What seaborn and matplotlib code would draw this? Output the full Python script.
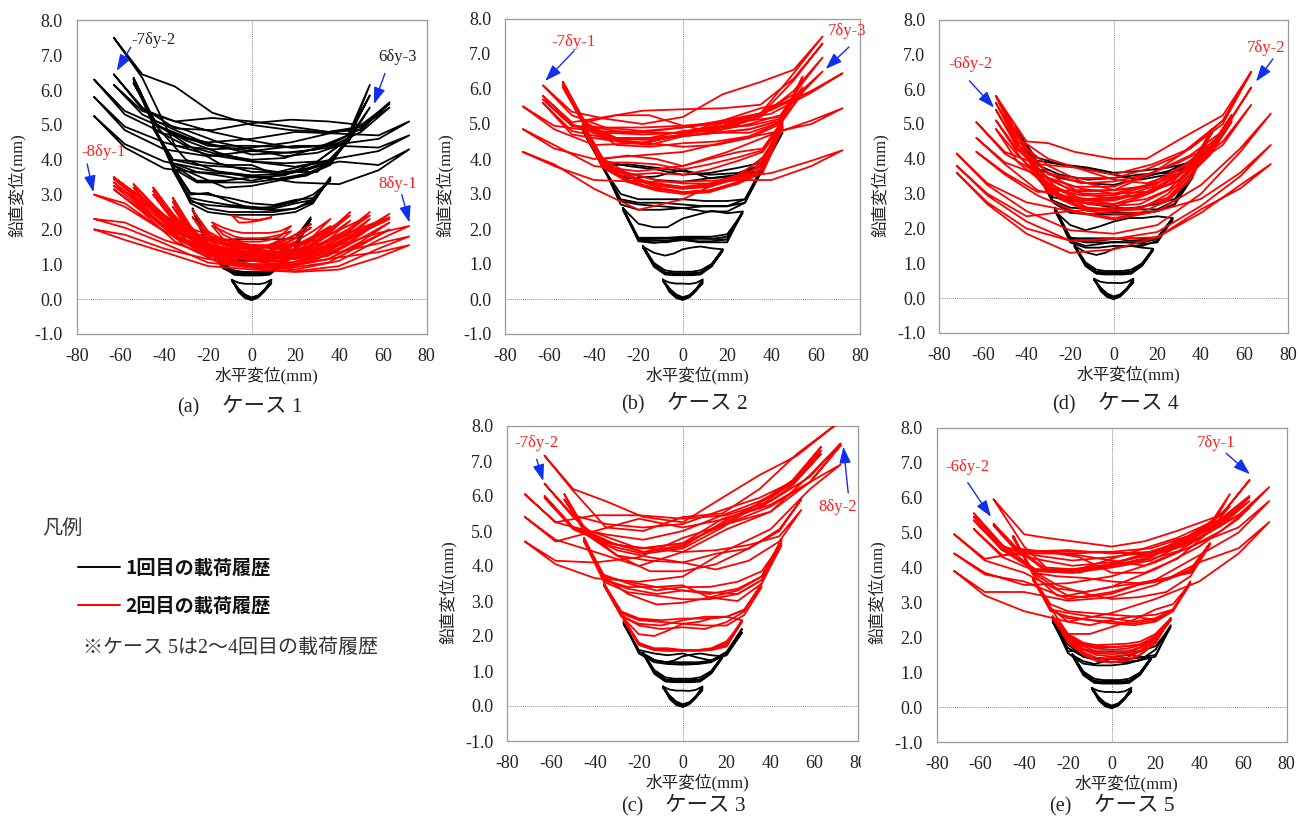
import matplotlib
matplotlib.use("Agg")
import matplotlib.pyplot as plt
from matplotlib.lines import Line2D
from matplotlib.patches import Rectangle
import seaborn as sns

sns.set_theme(style="white")
SER = ['Liberation Serif', 'Noto Sans CJK JP']
plt.rcParams['font.family'] = SER
plt.rcParams['axes.unicode_minus'] = False

# Horizontal stations (mm) of the digitised loops, one per loading amplitude
G9 = [-9, -6, -3, 0, 3, 6, 9]
G18 = [-18, -13, -8, -4, 0, 4, 8, 13, 18]
G27 = [-27, -20, -13, -7, 0, 7, 13, 20, 27]
G36 = [-36, -28, -20, -10, 0, 10, 20, 28, 36]
G45 = [-45, -36, -25, -12, 0, 12, 25, 36, 45]
G54 = [-54, -44, -30, -15, 0, 15, 30, 44, 54]
G63 = [-63, -50, -35, -18, 0, 18, 35, 50, 63]
G72 = [-72, -58, -40, -20, 0, 20, 40, 58, 72]
GT = [-54, -40, -30, -18, 0, 15, 30, 50, 63]
GC = [-63, -50, -35, -18, 0, 18, 35, 52, 70]

# Each row: stations, outward path (left to right), return path (right to left, interior stations)
small_rows = [
    (G9, [0.52, 0.26, 0.08, 0.0, 0.06, 0.24, 0.46], [0.27, 0.1, 0.03, 0.08, 0.26]),
    (G9, [0.56, 0.30, 0.13, 0.05, 0.11, 0.28, 0.52], [0.24, 0.05, -0.03, 0.03, 0.2]),
    (G9, [0.55, 0.47, 0.44, 0.44, 0.43, 0.46, 0.56], [0.28, 0.09, 0.01, 0.07, 0.25]),
    (G18, [1.48, 0.98, 0.74, 0.72, 0.72, 0.72, 0.74, 0.95, 1.38], [0.93, 0.7, 0.68, 0.68, 0.68, 0.7, 0.92]),
    (G18, [1.52, 1.03, 0.82, 0.78, 0.78, 0.78, 0.82, 1.0, 1.42], [0.98, 0.72, 0.7, 0.7, 0.7, 0.74, 0.96]),
    (G18, [1.5, 1.32, 1.24, 1.3, 1.42, 1.47, 1.5, 1.45, 1.42], [0.95, 0.76, 0.74, 0.74, 0.74, 0.76, 0.98]),
]

a_black = small_rows + [
    (G27, [2.6, 1.5, 0.95, 0.8, 0.75, 0.78, 0.92, 1.5, 2.3], [1.45, 0.9, 0.72, 0.7, 0.7, 0.88, 1.45]),
    (G27, [2.55, 1.72, 1.7, 1.72, 1.72, 1.72, 1.72, 1.75, 2.35], [1.6, 1.3, 1.15, 1.1, 1.1, 1.25, 1.6]),
    (G36, [3.75, 2.75, 2.5, 2.42, 2.42, 2.42, 2.5, 2.75, 3.5], [2.8, 2.6, 2.5, 2.5, 2.5, 2.6, 2.85]),
    (G36, [3.7, 2.8, 2.7, 2.65, 2.6, 2.55, 2.6, 2.85, 3.45], [2.85, 2.75, 2.6, 2.65, 2.7, 2.8, 2.9]),
    (G36, [3.8, 3.0, 3.05, 2.8, 2.6, 2.65, 2.8, 3.0, 3.4], [2.9, 2.85, 2.7, 2.75, 2.9, 3.0, 3.05]),
    (G45, [5.0, 3.85, 3.4, 3.4, 3.5, 3.45, 3.55, 3.85, 4.7], [3.9, 3.6, 3.45, 3.35, 3.35, 3.35, 3.75]),
    (G45, [4.9, 3.9, 3.65, 3.6, 3.55, 3.6, 3.75, 3.95, 4.6], [3.95, 3.85, 3.65, 3.75, 3.8, 3.85, 4.0]),
    (G45, [4.95, 4.0, 3.95, 3.85, 3.85, 3.55, 3.7, 3.95, 4.65], [3.9, 3.55, 3.4, 3.25, 3.2, 3.55, 3.85]),
    (G54, [6.35, 5.05, 4.45, 3.9, 3.65, 3.65, 3.65, 4.55, 6.15], [4.7, 4.3, 4.2, 4.15, 4.4, 4.6, 5.0]),
    (G54, [6.3, 5.0, 4.55, 4.2, 3.95, 3.9, 3.95, 4.6, 5.85], [4.7, 4.35, 4.05, 4.0, 4.15, 4.4, 4.85]),
    (G54, [6.2, 5.1, 4.85, 4.5, 4.3, 4.1, 4.2, 4.5, 5.5], [4.6, 3.95, 3.55, 3.5, 3.65, 4.0, 5.0]),
    (G63, [7.5, 6.45, 6.1, 5.35, 5.0, 4.85, 4.8, 4.85, 5.65], [4.95, 4.75, 4.5, 4.35, 4.3, 4.4, 6.35]),
    (G63, [6.45, 5.45, 5.1, 4.8, 4.55, 4.35, 4.4, 4.9, 5.6], [5.0, 5.1, 5.15, 5.05, 4.85, 4.9, 5.5]),
    (G63, [6.15, 5.3, 4.85, 4.4, 4.25, 4.2, 4.35, 4.8, 5.5], [4.95, 4.8, 4.95, 5.1, 5.2, 5.1, 5.4]),
    (G72, [6.3, 5.4, 4.9, 4.4, 4.4, 4.35, 4.45, 4.6, 5.1], [4.7, 4.75, 4.8, 4.6, 4.5, 4.75, 5.3]),
    (G72, [5.8, 4.95, 4.5, 4.15, 3.95, 3.8, 4.05, 4.25, 4.7], [4.35, 4.4, 4.4, 4.25, 4.1, 4.3, 4.85]),
    (G72, [5.25, 4.45, 3.95, 3.7, 3.55, 3.35, 3.3, 3.7, 4.3], [3.85, 3.95, 3.65, 3.4, 3.6, 3.75, 4.35]),
]
a_red = [
    (G9, [2.4, 2.35, 2.3, 2.28, 2.28, 2.3, 2.35], [2.3, 2.25, 2.22, 2.2, 2.2]),
    (G18, [2.2, 2.05, 1.95, 1.9, 1.9, 1.9, 1.9, 1.95, 2.1], [1.8, 1.7, 1.65, 1.65, 1.65, 1.7, 1.85]),
    (G18, [2.1, 1.95, 1.8, 1.75, 1.75, 1.75, 1.78, 1.85, 1.95], [1.7, 1.55, 1.52, 1.52, 1.52, 1.58, 1.72]),
    (G27, [2.55, 1.95, 1.7, 1.6, 1.55, 1.55, 1.65, 1.85, 2.15], [1.85, 1.6, 1.5, 1.45, 1.45, 1.55, 1.9]),
    (G27, [2.35, 1.85, 1.6, 1.5, 1.45, 1.5, 1.55, 1.75, 2.05], [1.75, 1.5, 1.38, 1.35, 1.35, 1.45, 1.7]),
    (G36, [2.9, 2.1, 1.55, 1.4, 1.35, 1.35, 1.45, 1.8, 2.3], [1.95, 1.65, 1.4, 1.3, 1.25, 1.35, 2.05]),
    (G36, [2.65, 1.95, 1.6, 1.3, 1.25, 1.25, 1.35, 1.7, 2.1], [1.8, 1.55, 1.3, 1.2, 1.2, 1.3, 1.85]),
    (G36, [2.8, 2.0, 1.5, 1.3, 1.2, 1.2, 1.3, 1.6, 2.0], [1.75, 1.45, 1.25, 1.15, 1.15, 1.25, 1.9]),
    (G45, [3.2, 2.4, 1.65, 1.35, 1.25, 1.2, 1.4, 1.9, 2.5], [2.0, 1.6, 1.45, 1.5, 1.55, 1.75, 2.45]),
    (G45, [3.0, 2.25, 1.6, 1.25, 1.1, 1.1, 1.3, 1.75, 2.25], [1.85, 1.45, 1.25, 1.3, 1.4, 1.6, 2.3]),
    (G45, [3.1, 2.3, 1.7, 1.45, 1.35, 1.3, 1.5, 1.95, 2.4], [2.05, 1.65, 1.5, 1.55, 1.6, 1.8, 2.35]),
    (G54, [3.3, 2.6, 1.7, 1.3, 1.15, 1.1, 1.35, 1.9, 2.5], [2.0, 1.55, 1.35, 1.4, 1.6, 1.85, 2.65]),
    (G54, [3.1, 2.45, 1.6, 1.15, 1.0, 1.0, 1.25, 1.75, 2.3], [1.85, 1.45, 1.2, 1.25, 1.4, 1.7, 2.5]),
    (G54, [2.9, 2.25, 1.5, 1.05, 0.95, 0.95, 1.15, 1.6, 2.1], [1.7, 1.35, 1.1, 1.15, 1.3, 1.6, 2.3]),
    (G54, [3.2, 2.5, 1.8, 1.5, 1.35, 1.3, 1.5, 1.95, 2.4], [2.1, 1.7, 1.5, 1.55, 1.7, 1.95, 2.55]),
    (G63, [3.5, 2.85, 1.95, 1.4, 1.1, 1.05, 1.25, 1.85, 2.45], [1.95, 1.35, 1.15, 1.3, 1.55, 2.05, 2.9]),
    (G63, [3.35, 2.65, 1.8, 1.25, 1.0, 0.95, 1.15, 1.65, 2.2], [1.75, 1.25, 1.05, 1.2, 1.45, 1.95, 2.7]),
    (G63, [3.15, 2.5, 1.65, 1.15, 0.92, 0.9, 1.05, 1.55, 2.0], [1.6, 1.15, 0.95, 1.1, 1.35, 1.8, 2.55]),
    (G63, [3.25, 2.6, 1.9, 1.55, 1.3, 1.2, 1.4, 1.9, 2.3], [2.0, 1.5, 1.3, 1.45, 1.65, 2.1, 2.8]),
    (G63, [3.45, 2.75, 2.1, 1.7, 1.45, 1.3, 1.5, 1.95, 2.35], [2.05, 1.65, 1.4, 1.55, 1.8, 2.2, 2.85]),
    (G72, [3.0, 2.65, 1.95, 1.25, 0.95, 0.85, 1.1, 1.7, 2.1], [1.9, 1.55, 1.25, 1.3, 1.45, 1.95, 2.75]),
    (G72, [2.3, 2.05, 1.6, 1.05, 0.9, 0.8, 0.95, 1.45, 1.8], [1.6, 1.35, 1.15, 1.2, 1.3, 1.7, 2.2]),
    (G72, [2.0, 1.7, 1.35, 0.95, 0.85, 0.78, 0.85, 1.2, 1.55], [1.35, 1.2, 1.0, 1.0, 1.15, 1.45, 1.85]),
]

b_black = small_rows + [
    (G27, [2.6, 1.75, 1.75, 1.75, 1.78, 1.78, 1.78, 1.85, 2.45], [1.7, 1.72, 1.74, 1.74, 1.74, 1.72, 1.7]),
    (G27, [2.55, 1.72, 1.68, 1.68, 1.7, 1.72, 1.72, 1.78, 2.5], [1.62, 1.62, 1.62, 1.7, 1.62, 1.62, 1.68]),
    (G27, [2.6, 2.15, 2.05, 2.05, 2.3, 2.42, 2.52, 2.45, 2.5], [1.7, 1.65, 1.65, 1.68, 1.65, 1.6, 1.65]),
    (G36, [3.8, 2.7, 2.55, 2.55, 2.6, 2.65, 2.65, 2.85, 3.8], [2.75, 2.65, 2.65, 2.7, 2.75, 2.75, 2.85]),
    (G36, [3.75, 2.8, 2.7, 2.65, 2.6, 2.5, 2.5, 2.75, 3.7], [2.85, 2.8, 2.8, 2.85, 2.85, 2.85, 3.0]),
    (G45, [4.9, 3.75, 3.6, 3.4, 3.35, 3.45, 3.55, 3.8, 4.9], [3.9, 3.75, 3.6, 3.55, 3.7, 3.8, 3.95]),
    (G45, [4.8, 3.8, 3.85, 3.75, 3.65, 3.55, 3.6, 3.85, 4.75], [3.7, 3.5, 3.45, 3.7, 3.5, 3.45, 3.75]),
]
b_red = [
    (G45, [5.0, 3.85, 3.35, 3.15, 3.05, 3.1, 3.3, 3.95, 5.1], [3.75, 3.35, 3.1, 3.05, 3.2, 3.5, 3.95]),
    (G45, [4.95, 3.95, 3.5, 3.25, 3.15, 3.25, 3.5, 4.05, 4.9], [3.6, 3.3, 3.1, 3.05, 3.15, 3.4, 3.85]),
    (G45, [5.0, 4.0, 4.1, 4.0, 3.8, 4.0, 4.2, 4.3, 5.1], [3.7, 3.4, 3.3, 3.3, 3.4, 3.6, 4.0]),
    (G45, [4.9, 3.8, 3.4, 3.3, 3.2, 3.3, 3.55, 4.0, 4.95], [3.7, 3.3, 3.05, 3.0, 3.1, 3.35, 3.75]),
    (G45, [4.85, 3.75, 3.55, 3.6, 3.55, 3.7, 3.95, 4.2, 5.0], [3.85, 3.45, 3.2, 3.15, 3.25, 3.55, 3.9]),
    (G45, [4.95, 3.9, 3.9, 3.85, 3.7, 3.85, 4.05, 4.25, 5.05], [3.8, 3.5, 3.25, 3.2, 3.3, 3.5, 3.9]),
    (G54, [6.2, 5.0, 4.4, 4.35, 4.45, 4.5, 4.65, 5.05, 6.35], [5.1, 4.85, 4.75, 4.65, 4.6, 4.55, 5.05]),
    (G54, [6.05, 4.9, 4.5, 4.4, 4.65, 4.75, 4.85, 5.1, 6.05], [5.2, 5.1, 4.9, 4.75, 4.75, 4.8, 4.95]),
    (G54, [6.1, 5.05, 5.25, 5.25, 4.95, 4.75, 4.75, 5.05, 5.9], [5.0, 4.6, 4.4, 4.35, 4.45, 4.55, 4.95]),
    (G54, [6.15, 4.95, 4.6, 4.6, 4.8, 4.9, 4.95, 5.15, 6.2], [5.25, 5.0, 4.8, 4.65, 4.55, 4.6, 5.0]),
    (G63, [6.1, 5.35, 5.15, 5.0, 5.2, 5.85, 6.2, 6.55, 7.5], [6.45, 5.3, 5.1, 4.9, 4.8, 4.9, 5.25]),
    (G63, [5.8, 5.05, 5.2, 5.38, 5.42, 5.45, 5.55, 6.3, 7.3], [6.25, 5.25, 4.9, 4.7, 4.55, 4.6, 5.0]),
    (G63, [5.6, 4.8, 4.6, 4.45, 4.7, 5.1, 5.45, 5.65, 6.5], [5.75, 5.3, 4.95, 4.7, 4.45, 4.55, 4.7]),
    (G63, [5.7, 4.95, 4.9, 4.9, 4.95, 5.05, 5.3, 5.85, 6.9], [5.95, 5.2, 4.85, 4.75, 4.7, 4.75, 4.95]),
    (G72, [5.5, 4.85, 4.4, 4.45, 4.7, 5.05, 5.4, 5.95, 6.45], [5.9, 5.3, 5.05, 4.9, 4.75, 4.8, 4.95]),
    (G72, [4.85, 4.3, 4.0, 4.1, 4.2, 4.5, 4.75, 5.0, 5.45], [5.1, 4.7, 4.2, 3.8, 3.65, 3.8, 4.4]),
    (G72, [4.2, 3.8, 3.4, 3.35, 3.35, 3.4, 3.4, 3.8, 4.25], [3.95, 3.6, 3.45, 2.85, 2.55, 3.15, 3.85]),
]

d_black = small_rows + [
    (G27, [2.6, 1.75, 1.65, 1.65, 1.7, 1.72, 1.7, 1.75, 2.3], [1.6, 1.55, 1.6, 1.62, 1.55, 1.5, 1.65]),
    (G27, [2.55, 1.72, 1.72, 1.72, 1.72, 1.65, 1.65, 1.7, 2.25], [1.65, 1.5, 1.5, 1.5, 1.45, 1.45, 1.6]),
    (G27, [2.5, 2.1, 1.95, 2.05, 2.2, 2.3, 2.3, 2.35, 2.3], [1.7, 1.6, 1.6, 1.6, 1.6, 1.6, 1.7]),
    (G36, [3.75, 2.8, 2.5, 2.4, 2.45, 2.45, 2.5, 2.7, 3.55], [2.85, 2.7, 2.6, 2.55, 2.55, 2.6, 2.8]),
    (G36, [3.7, 2.9, 2.8, 2.7, 2.6, 2.55, 2.55, 2.8, 3.45], [2.7, 2.5, 2.4, 2.4, 2.4, 2.45, 2.75]),
    (G45, [4.9, 3.95, 3.85, 3.7, 3.55, 3.4, 3.55, 3.85, 4.85], [3.75, 3.6, 3.55, 3.45, 3.4, 3.55, 3.85]),
    (G45, [4.85, 3.75, 3.45, 3.3, 3.25, 3.45, 3.65, 3.95, 4.75], [3.9, 3.75, 3.65, 3.6, 3.75, 3.85, 4.05]),
]
d_red = [
    (G45, [4.85, 3.65, 2.9, 2.55, 2.5, 2.55, 3.0, 3.7, 4.85], [3.6, 2.9, 2.6, 2.5, 2.55, 2.9, 3.6]),
    (G45, [4.8, 3.75, 3.1, 2.7, 2.65, 2.7, 3.1, 3.8, 4.8], [3.45, 2.8, 2.45, 2.42, 2.5, 2.85, 3.55]),
    (G45, [4.9, 3.6, 2.95, 2.85, 2.9, 2.95, 3.25, 3.85, 4.85], [3.5, 2.85, 2.6, 2.55, 2.6, 3.0, 3.65]),
    (G54, [5.8, 4.6, 4.0, 3.7, 3.4, 3.3, 3.6, 4.3, 5.2], [4.3, 3.55, 3.0, 2.7, 2.75, 3.1, 4.45]),
    (G54, [5.4, 4.4, 3.6, 3.0, 2.85, 3.0, 3.4, 4.2, 5.15], [4.35, 3.9, 3.55, 3.35, 3.3, 3.6, 4.3]),
    (G54, [4.85, 4.1, 3.3, 2.85, 2.7, 2.85, 3.25, 4.1, 5.05], [4.2, 3.75, 3.2, 2.95, 2.95, 3.2, 3.9]),
    (G54, [5.6, 4.5, 3.8, 3.35, 3.1, 3.2, 3.55, 4.3, 5.25], [4.3, 3.7, 3.25, 3.0, 3.0, 3.4, 4.4]),
    (G54, [5.1, 4.25, 3.45, 3.15, 3.0, 3.05, 3.35, 4.15, 5.1], [4.25, 3.55, 3.05, 2.8, 2.8, 3.05, 4.15]),
    (GT, [5.8, 4.5, 4.45, 4.2, 4.0, 4.0, 4.55, 5.25, 6.5], [5.1, 4.1, 3.7, 3.45, 3.45, 3.55, 4.3]),
    (G63, [5.05, 4.15, 3.6, 3.05, 3.1, 3.6, 4.3, 5.0, 6.5], [5.1, 4.3, 3.85, 3.55, 3.75, 3.85, 4.2]),
    (G63, [4.6, 3.85, 3.1, 2.8, 2.85, 3.2, 3.95, 4.75, 6.05], [4.8, 4.1, 3.6, 3.2, 3.2, 3.55, 3.9]),
    (G63, [4.2, 3.55, 2.95, 2.5, 2.6, 3.05, 3.75, 4.4, 5.55], [4.5, 3.75, 3.25, 3.1, 3.1, 3.05, 3.6]),
    (G72, [4.15, 3.25, 2.5, 1.95, 1.85, 2.1, 3.0, 4.2, 5.3], [4.3, 3.25, 2.5, 2.3, 2.5, 2.75, 3.3]),
    (G72, [3.8, 2.95, 2.2, 1.65, 1.7, 1.9, 2.65, 3.5, 4.4], [3.6, 2.85, 2.5, 2.25, 2.5, 2.35, 3.0]),
    (G72, [3.6, 2.7, 1.85, 1.3, 1.4, 1.75, 2.55, 3.15, 3.85], [3.25, 2.45, 1.75, 1.7, 1.65, 2.0, 2.75]),
]

c_black = small_rows + [
    (G27, [2.4, 1.55, 1.3, 1.25, 1.25, 1.25, 1.3, 1.55, 2.2], [1.5, 1.25, 1.2, 1.18, 1.2, 1.25, 1.5]),
    (G27, [2.35, 1.6, 1.5, 1.45, 1.5, 1.38, 1.3, 1.5, 2.1], [1.45, 1.3, 1.22, 1.22, 1.25, 1.3, 1.55]),
]
c_red = [
    (G27, [2.5, 1.75, 1.62, 1.6, 1.6, 1.6, 1.62, 1.8, 2.45], [1.7, 1.6, 1.58, 1.58, 1.58, 1.6, 1.75]),
    (G27, [2.5, 2.05, 2.0, 2.15, 2.35, 2.4, 2.5, 2.55, 2.45], [1.75, 1.62, 1.6, 1.6, 1.6, 1.62, 1.8]),
    (G27, [2.45, 1.8, 1.65, 1.65, 1.6, 1.6, 1.65, 1.85, 2.4], [1.72, 1.6, 1.58, 1.58, 1.58, 1.6, 1.75]),
    (G36, [3.5, 2.65, 2.45, 2.4, 2.35, 2.3, 2.3, 2.6, 3.4], [2.75, 2.55, 2.5, 2.5, 2.45, 2.5, 2.7]),
    (G36, [3.45, 2.55, 2.35, 2.3, 2.45, 2.55, 2.55, 2.75, 3.5], [2.7, 2.4, 2.2, 2.25, 2.2, 2.3, 2.6]),
    (G45, [4.8, 3.7, 3.2, 2.9, 2.95, 3.1, 3.3, 3.7, 4.75], [3.7, 3.35, 3.2, 3.3, 3.4, 3.4, 3.6]),
    (G45, [4.75, 3.6, 3.35, 3.2, 3.3, 3.25, 3.2, 3.6, 4.65], [3.85, 3.55, 3.4, 3.4, 3.3, 3.5, 3.75]),
    (G45, [4.7, 3.7, 3.55, 3.4, 3.45, 3.1, 3.0, 3.5, 4.6], [3.6, 3.2, 3.05, 3.05, 3.15, 3.25, 3.55]),
    (G54, [6.05, 5.0, 4.3, 3.85, 3.85, 4.05, 4.5, 5.05, 5.9], [5.0, 4.5, 4.35, 4.1, 4.15, 4.3, 4.9]),
    (G54, [5.9, 4.9, 4.45, 4.25, 4.1, 3.9, 4.15, 4.7, 5.6], [4.85, 4.6, 4.45, 4.4, 4.5, 4.6, 5.0]),
    (GC, [7.15, 6.2, 5.85, 5.4, 5.25, 5.95, 6.6, 7.15, 8.05], [7.2, 6.2, 5.5, 5.4, 5.0, 5.1, 6.15]),
    (G63, [6.35, 5.45, 5.2, 5.1, 5.2, 5.6, 5.95, 6.4, 7.4], [6.45, 5.8, 5.1, 4.5, 4.35, 4.6, 5.4]),
    (G63, [5.95, 5.1, 4.7, 4.4, 4.55, 5.25, 5.8, 6.35, 7.2], [6.3, 5.65, 5.35, 4.65, 4.5, 4.65, 5.05]),
    (G63, [6.0, 5.1, 4.9, 4.75, 5.0, 5.45, 5.85, 6.35, 7.3], [6.4, 5.7, 5.2, 4.6, 4.4, 4.7, 5.1]),
    (G72, [6.05, 5.25, 4.95, 4.5, 4.65, 5.2, 5.55, 6.6, 7.5], [6.55, 5.85, 5.45, 5.35, 5.45, 5.45, 5.25]),
    (G72, [5.4, 4.75, 4.4, 4.0, 4.4, 5.05, 5.55, 6.4, 7.45], [6.4, 5.75, 5.35, 5.1, 5.35, 5.0, 4.7]),
    (G72, [4.7, 4.05, 3.65, 3.55, 3.7, 4.45, 5.05, 6.2, 6.9], [6.4, 5.7, 5.2, 4.8, 4.25, 4.1, 4.15]),
]

e_black = small_rows + [
    (G27, [2.5, 1.55, 1.25, 1.2, 1.2, 1.25, 1.35, 1.65, 2.35], [1.45, 1.35, 1.3, 1.3, 1.35, 1.45, 1.8]),
    (G27, [2.45, 1.6, 1.65, 1.6, 1.6, 1.6, 1.6, 1.75, 2.3], [1.5, 1.42, 1.38, 1.38, 1.4, 1.45, 1.7]),
]
e_red = [
    (G27, [2.6, 1.9, 1.55, 1.35, 1.3, 1.35, 1.5, 1.85, 2.55], [1.85, 1.5, 1.33, 1.28, 1.33, 1.5, 1.85]),
    (G27, [2.55, 1.95, 1.65, 1.5, 1.45, 1.5, 1.62, 1.95, 2.5], [1.9, 1.6, 1.42, 1.4, 1.42, 1.58, 1.9]),
    (G27, [2.6, 2.0, 1.75, 1.6, 1.58, 1.6, 1.72, 2.0, 2.5], [1.95, 1.7, 1.55, 1.52, 1.55, 1.68, 1.98]),
    (G27, [2.55, 2.05, 1.8, 1.72, 1.72, 1.75, 1.8, 2.05, 2.5], [2.0, 1.78, 1.68, 1.65, 1.68, 1.78, 2.0]),
    (G27, [2.6, 2.1, 1.85, 1.78, 1.8, 1.82, 1.88, 2.1, 2.55], [2.0, 1.8, 1.75, 1.72, 1.75, 1.8, 2.05]),
    (G36, [3.7, 2.75, 2.6, 2.5, 2.4, 2.35, 2.45, 2.75, 3.6], [2.8, 2.65, 2.6, 2.65, 2.7, 2.75, 2.95]),
    (G36, [3.65, 2.85, 2.45, 2.35, 2.5, 2.6, 2.5, 2.8, 3.55], [2.75, 2.5, 2.4, 2.45, 2.5, 2.55, 2.8]),
    (G36, [3.7, 2.85, 2.1, 2.1, 2.3, 2.5, 2.8, 2.95, 3.55], [2.8, 2.55, 2.45, 2.55, 2.6, 2.7, 2.8]),
    (G45, [4.9, 3.85, 3.4, 3.3, 3.45, 3.55, 3.65, 3.95, 4.7], [3.9, 3.65, 3.5, 3.25, 3.15, 3.2, 3.8]),
    (G45, [4.85, 3.9, 3.5, 3.25, 3.1, 3.15, 3.3, 3.75, 4.65], [3.85, 3.7, 3.55, 3.6, 3.7, 3.75, 3.85]),
    (GT, [5.95, 4.95, 4.85, 4.75, 4.6, 4.75, 5.05, 5.5, 6.5], [5.5, 4.7, 4.25, 4.05, 3.95, 4.0, 4.6]),
    (G54, [5.25, 4.6, 3.95, 3.85, 4.1, 4.4, 4.7, 5.15, 6.1], [5.0, 4.45, 4.05, 4.2, 4.35, 4.45, 4.55]),
    (G54, [5.2, 4.55, 3.9, 3.95, 4.25, 4.55, 4.85, 5.25, 5.75], [5.0, 4.25, 3.85, 3.85, 4.3, 4.45, 4.5]),
    (G63, [5.55, 4.6, 4.4, 4.4, 4.45, 4.55, 4.9, 5.3, 6.05], [5.4, 4.9, 4.4, 4.1, 3.95, 3.95, 4.65]),
    (G63, [5.35, 4.5, 4.25, 4.05, 4.15, 4.35, 4.65, 5.2, 5.9], [5.3, 4.75, 4.2, 4.0, 3.85, 3.9, 4.5]),
    (G63, [5.1, 4.3, 3.9, 3.85, 4.05, 4.25, 4.55, 5.05, 5.7], [5.2, 4.7, 4.35, 4.45, 4.45, 4.45, 4.35]),
    (G63, [5.45, 4.55, 4.35, 4.2, 4.3, 4.45, 4.8, 5.25, 6.0], [5.35, 4.8, 4.3, 4.05, 3.9, 3.95, 4.55]),
    (G72, [4.95, 4.2, 3.85, 3.2, 3.45, 3.95, 4.6, 5.4, 6.3], [5.5, 4.85, 4.45, 4.4, 4.5, 4.45, 4.25]),
    (G72, [4.4, 3.8, 3.6, 3.1, 3.3, 3.65, 4.35, 5.0, 5.9], [5.15, 4.7, 4.15, 3.75, 3.55, 3.5, 3.85]),
    (G72, [3.9, 3.2, 2.75, 2.45, 2.7, 3.1, 3.6, 4.4, 5.3], [4.55, 4.15, 3.5, 3.15, 3.05, 3.3, 3.3]),
]

x_ticks = [-80, -60, -40, -20, 0, 20, 40, 60, 80]
y_ticks = [-1.0, 0.0, 1.0, 2.0, 3.0, 4.0, 5.0, 6.0, 7.0, 8.0]
x_label = "水平変位(mm)"
y_label = "鉛直変位(mm)"

# Annotations: text, colour, text position, arrow tail, arrow head (data units)
a_notes = [("-7δy-2", "#222222", (-44.8, 7.44), (-55.3, 7.23), (-61.7, 6.55)),
           ("6δy-3", "#222222", (66.6, 6.96), (60.9, 6.48), (55.9, 5.6)),
           ("-8δy-1", "#ff2020", (-67.7, 4.22), (-75.2, 3.88), (-72.4, 3.07)),
           ("8δy-1", "#ff2020", (66.6, 3.3), (68.6, 3.0), (72.1, 2.2))]
b_notes = [("-7δy-1", "#ff2020", (-49.4, 7.35), (-49.0, 7.09), (-62.0, 6.23)),
           ("7δy-3", "#ff2020", (74.1, 7.67), (74.9, 7.2), (64.4, 6.57))]
d_notes = [("-6δy-2", "#ff2020", (-65.8, 6.71), (-66.2, 6.24), (-54.9, 5.47)),
           ("7δy-2", "#ff2020", (69.8, 7.19), (73.0, 6.87), (65.2, 6.22))]
c_notes = [("-7δy-2", "#ff2020", (-66.6, 7.51), (-66.6, 7.05), (-63.6, 6.43)),
           ("8δy-2", "#ff2020", (70.4, 5.69), (75.4, 6.09), (73.2, 7.41))]
e_notes = [("-6δy-2", "#ff2020", (-66.0, 6.88), (-65.8, 6.43), (-55.2, 5.45)),
           ("7δy-1", "#ff2020", (47.7, 7.57), (52.3, 7.27), (63.2, 6.67))]

W, H = 1298, 819
fig = plt.figure(figsize=(W / 100, H / 100), dpi=100, facecolor="white")


def fx(px):
    return px / W


def fy(py):
    return 1 - py / H


def draw_rows(ax, rows, color):
    for grid, out, back in rows:
        xs = grid + grid[-2:0:-1] + [grid[0]]
        ys = out + back + [out[0]]
        sns.lineplot(x=xs, y=ys, sort=False, estimator=None, color=color,
                     linewidth=1.3, ax=ax, legend=False, zorder=3)


panels = [
    ((76.7, 426.7, 20.4, 334.0), a_black, a_red, a_notes, (17, 185), (266, 376), (177, 222, 408), "(a)", "ケース 1"),
    ((505.3, 860.3, 19.0, 334.0), b_black, b_red, b_notes, (445, 185), (697, 376), (621, 667, 405), "(b)", "ケース 2"),
    ((939.3, 1288.3, 19.5, 333.0), d_black, d_red, d_notes, (880, 185), (1128, 375), (1052, 1098, 405), "(d)", "ケース 4"),
    ((507.3, 858.3, 426.0, 741.0), c_black, c_red, c_notes, (448, 592), (697, 783), (621, 665, 807), "(c)", "ケース 3"),
    ((936.7, 1286.7, 427.7, 742.3), e_black, e_red, e_notes, (877, 592), (1126, 784), (1049, 1094, 807), "(e)", "ケース 5"),
]

for (l, r, t, b), black, red, notes, yl, xl, cap, tag, case in panels:
    ax = fig.add_axes([fx(l), fy(b), (r - l) / W, (b - t) / H])
    ax.axhline(0, color="#8c8c8c", lw=0.7, ls=(0, (1, 1)), zorder=1)
    ax.axvline(0, color="#8c8c8c", lw=0.7, ls=(0, (1, 1)), zorder=1)
    draw_rows(ax, black, "#000000")
    draw_rows(ax, red, "#ff0000")
    ax.set_xlim(-80, 80)
    ax.set_ylim(-1, 8)
    ax.set_xticks(x_ticks)
    ax.set_yticks(y_ticks)
    ax.set_xticklabels([str(v) for v in x_ticks])
    ax.set_yticklabels([f"{v:.1f}" for v in y_ticks])
    ax.tick_params(length=0, labelsize=13, labelcolor="#222222")
    ax.tick_params(axis="y", pad=10)
    ax.tick_params(axis="x", pad=10)
    ax.set_xlabel("")
    ax.set_ylabel("")
    for s in ax.spines.values():
        s.set_color("#9a9a9a")
        s.set_linewidth(0.9)
    for text, col, pos, tail, head in notes:
        ax.text(pos[0], pos[1], text, color=col, fontsize=12, ha="center",
                va="center", clip_on=False, zorder=6)
        ax.annotate("", xy=head, xytext=tail, zorder=6,
                    arrowprops=dict(arrowstyle="-|>,head_length=1.0,head_width=0.35",
                                    color="#1030f0", lw=1.0, mutation_scale=10,
                                    shrinkA=0, shrinkB=0))
    fig.text(fx(yl[0]), fy(yl[1]), y_label, rotation=90, ha="center", va="center",
             fontsize=12, color="#222222")
    fig.text(fx(xl[0]), fy(xl[1]), x_label, ha="center", va="center",
             fontsize=12, color="#222222")
    fig.text(fx(cap[0]), fy(cap[2]), tag, ha="left", va="center", fontsize=14.5, color="#222222")
    fig.text(fx(cap[1]), fy(cap[2]), case, ha="left", va="center", fontsize=15.5, color="#222222")

# Legend block, drawn on the figure
fig.text(fx(42), fy(529), "凡例", fontsize=14.5, ha="left", va="center", color="#333333")
fig.add_artist(Line2D([fx(78), fx(120)], [fy(567), fy(567)], color="#000000", lw=1.4))
fig.add_artist(Line2D([fx(78), fx(120)], [fy(605), fy(605)], color="#ff0000", lw=1.4))
fig.text(fx(125), fy(568), "1回目の載荷履歴", fontsize=13.8, ha="left", va="center",
         color="#111111", fontweight="bold", family=['Noto Sans CJK JP', 'DejaVu Sans'])
fig.text(fx(125), fy(606), "2回目の載荷履歴", fontsize=13.8, ha="left", va="center",
         color="#111111", fontweight="bold", family=['Noto Sans CJK JP', 'DejaVu Sans'])
fig.text(fx(83), fy(648), "※ケース 5は2〜4回目の載荷履歴", fontsize=14.4, ha="left", va="center",
         color="#333333")

# The source panels are pasted pictures: their edges cut a little text off
fig.add_artist(Rectangle((fx(861), fy(790)), 15 / W, 35 / H, transform=fig.transFigure,
                         facecolor="white", edgecolor="none", zorder=10))
fig.add_artist(Rectangle((fx(610), fy(419.5)), 688 / W, 4 / H, transform=fig.transFigure,
                         facecolor="white", edgecolor="none", zorder=10))

fig.savefig("out.png", dpi=100, facecolor="white")
